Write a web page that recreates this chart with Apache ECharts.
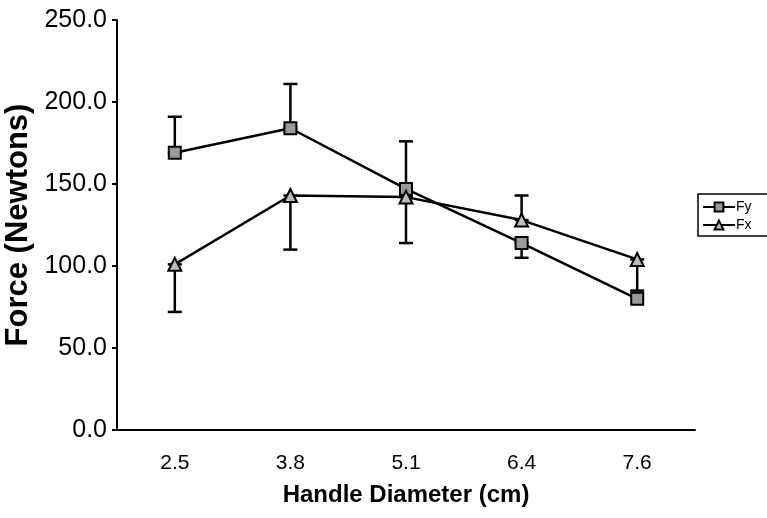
<!DOCTYPE html>
<html>
<head>
<meta charset="utf-8">
<script src="https://cdn.jsdelivr.net/npm/echarts@6/dist/echarts.min.js"></script>
<style>
  html, body { margin: 0; padding: 0; background: #fff; }
  #main { width: 767px; height: 518px; }
</style>
</head>
<body>
<div id="main"></div>
<script>
/* ---------- data ---------- */
const diameters = ['2.5', '3.8', '5.1', '6.4', '7.6'];
const fy = [169, 184, 147, 114, 80];
const fx = [101, 143, 142, 128, 104];
// error bars as [category index, low, high]
const fyErr = [[0, 169, 191], [1, 184, 211], [2, 147, 176], [3, 105, 114]];
const fxErr = [[0, 72, 101], [1, 110, 143], [2, 114, 142], [3, 128, 143], [4, 85, 104]];

const chart = echarts.init(document.getElementById('main'));

// vertical bar with caps
function errorBar(params, api) {
  const x = api.value(0);
  const lo = api.coord([x, api.value(1)]);
  const hi = api.coord([x, api.value(2)]);
  const w = 7;
  const st = { stroke: '#000', lineWidth: 2.5 };
  return {
    type: 'group',
    children: [
      { type: 'line', shape: { x1: lo[0], y1: lo[1], x2: hi[0], y2: hi[1] }, style: st },
      { type: 'line', shape: { x1: lo[0] - w, y1: lo[1], x2: lo[0] + w, y2: lo[1] }, style: st },
      { type: 'line', shape: { x1: hi[0] - w, y1: hi[1], x2: hi[0] + w, y2: hi[1] }, style: st }
    ]
  };
}

const font = 'Liberation Sans, Arial, sans-serif';

chart.setOption({
  backgroundColor: '#fff',
  animation: false,
  grid: { left: 117, right: 72, top: 20, bottom: 88, outerBoundsMode: 'none' },
  legend: {
    orient: 'vertical',
    left: 698,
    top: 194,
    padding: [6, 20, 4, 4],
    itemGap: 4,
    itemWidth: 32,
    itemHeight: 11,
    borderColor: '#000',
    borderWidth: 1.5,
    textStyle: { fontFamily: font, fontSize: 14, color: '#000', padding: [0, 0, 0, -4] },
    data: ['Fy', 'Fx']
  },
  xAxis: {
    type: 'category',
    data: diameters,
    name: 'Handle Diameter (cm)',
    nameLocation: 'middle',
    nameGap: 53,
    nameTextStyle: { fontFamily: font, fontSize: 24, fontWeight: 'bold', color: '#000' },
    axisLine: { lineStyle: { color: '#000', width: 2 } },
    axisTick: { alignWithLabel: true, length: 10, lineStyle: { color: '#000', width: 2 } },
    axisLabel: { fontFamily: font, fontSize: 21, color: '#000', margin: 23 },
    splitLine: { show: false }
  },
  yAxis: {
    type: 'value',
    min: 0,
    max: 250,
    interval: 50,
    name: 'Force (Newtons)',
    nameLocation: 'middle',
    nameGap: 82,
    nameTextStyle: { fontFamily: font, fontSize: 31, fontWeight: 'bold', color: '#000' },
    axisLine: { show: true, lineStyle: { color: '#000', width: 2 } },
    axisTick: { show: true, length: 5, lineStyle: { color: '#000', width: 2 } },
    axisLabel: {
      fontFamily: font, fontSize: 25, color: '#000', margin: 10,
      formatter: v => v.toFixed(1)
    },
    splitLine: { show: false }
  },
  series: [
    {
      name: 'Fy',
      type: 'line',
      data: fy,
      symbol: 'rect',
      symbolSize: 12,
      lineStyle: { color: '#000', width: 2.5 },
      itemStyle: { color: '#9a9a9a', borderColor: '#000', borderWidth: 2 },
      z: 3
    },
    {
      name: 'Fx',
      type: 'line',
      data: fx,
      symbol: 'triangle',
      symbolSize: 13,
      lineStyle: { color: '#000', width: 2.5 },
      itemStyle: { color: '#bbb', borderColor: '#000', borderWidth: 2 },
      z: 3
    },
    {
      type: 'custom',
      renderItem: errorBar,
      data: fyErr,
      encode: { x: 0, y: [1, 2] },
      z: 2,
      silent: true
    },
    {
      type: 'custom',
      renderItem: errorBar,
      data: fxErr,
      encode: { x: 0, y: [1, 2] },
      z: 2,
      silent: true
    }
  ]
});
</script>
</body>
</html>
